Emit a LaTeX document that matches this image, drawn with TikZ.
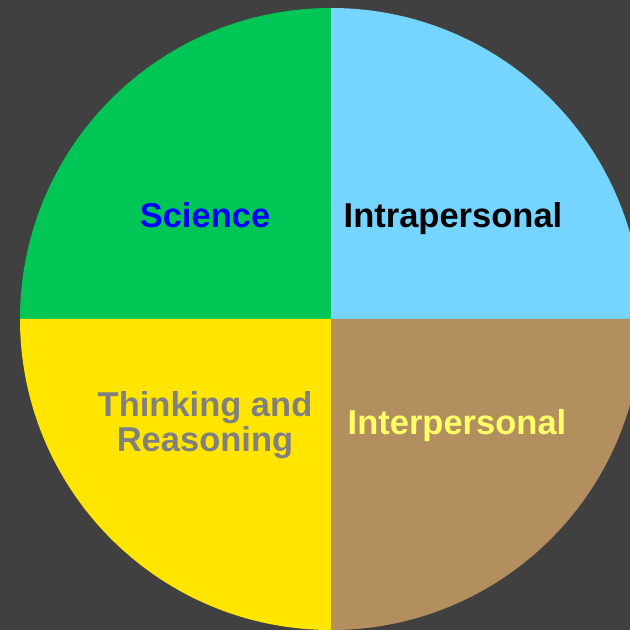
\documentclass[tikz,border=0pt]{standalone}
\usepackage{fontspec}
\setmainfont{Liberation Sans}
\definecolor{bggray}{HTML}{404040}
\definecolor{quadgreen}{HTML}{00C655}
\definecolor{quadblue}{HTML}{75D5FF}
\definecolor{quadyellow}{HTML}{FFE500}
\definecolor{quadbrown}{HTML}{B38F5F}
\definecolor{txtgray}{HTML}{808080}
\definecolor{txtyellow}{HTML}{FFFF66}
\tikzset{
  quadlabel/.style={font=\fontsize{34.5}{35}\selectfont\bfseries, anchor=base, inner sep=0pt, align=center}
}

\begin{document}
\begin{tikzpicture}[x=1pt,y=1pt]
            \fill[bggray] (0,0) rectangle (630,630);
            \useasboundingbox (0,0) rectangle (630,630);
            \clip (0,0) rectangle (630,630);
            \coordinate (O) at (331,311);
            % four quadrants of the circle
            \fill[quadgreen] (O) -- ++(180:311pt) arc (180:90:311pt) -- cycle;
            \fill[quadblue] (O) -- ++(90:311pt) arc (90:0:311pt) -- cycle;
            \fill[quadyellow] (O) -- ++(180:311pt) arc (180:270:311pt) -- cycle;
            \fill[quadbrown] (O) -- ++(270:311pt) arc (270:360:311pt) -- cycle;
            \node[quadlabel, text={rgb,255:red,0;green,0;blue,255}] (science) at (205,402) {Science};
            \node[quadlabel, text=black] (intra) at (453,402) {Intrapersonal};
            \node[quadlabel, text=txtgray] (think) at (205,178) {Thinking and\\Reasoning};
            \node[quadlabel, text=txtyellow] (inter) at (457,195) {Interpersonal};
        \end{tikzpicture}
\end{document}
